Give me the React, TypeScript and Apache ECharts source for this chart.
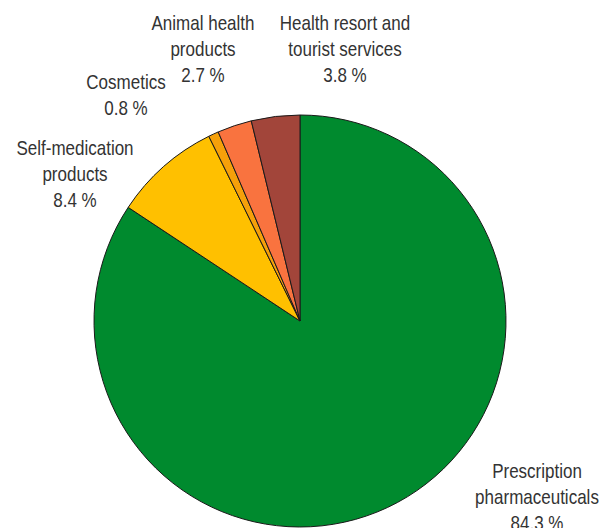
import React, { useEffect, useRef } from "react";
import * as echarts from "echarts";

const categories = [
  "Prescription\npharmaceuticals",
  "Self-medication\nproducts",
  "Cosmetics",
  "Animal health\nproducts",
  "Health resort and\ntourist services",
];
const values = [84.3, 8.4, 0.8, 2.7, 3.8];
const colors = ["#008A2E", "#FFC000", "#F5A00A", "#F9733F", "#A2453A"];
const labelPos: [number, number][] = [
  [537, 497],
  [75, 174],
  [126, 95],
  [203, 49],
  [345, 49],
];

export default function App() {
  const ref = useRef<HTMLDivElement>(null);
  useEffect(() => {
    if (!ref.current) return;
    const chart = echarts.init(ref.current, undefined, { renderer: "svg" });
    chart.setOption({
      animation: false,
      backgroundColor: "#ffffff",
      graphic: categories.map((name, i) => ({
        type: "text",
        x: labelPos[i][0],
        y: labelPos[i][1],
        scaleX: 0.81,
        silent: true,
        style: {
          text: `${name}\n${values[i].toFixed(1)} %`,
          x: 0,
          y: 0,
          align: "center",
          verticalAlign: "middle",
          fontFamily: "'Liberation Sans', Arial, sans-serif",
          fontSize: 21,
          lineHeight: 26,
          fill: "#333333",
        },
      })),
      series: [
        {
          type: "pie",
          center: [300, 321],
          radius: 206,
          startAngle: 90,
          clockwise: true,
          itemStyle: { borderColor: "#1a1a1a", borderWidth: 1 },
          label: { show: false },
          labelLine: { show: false },
          data: categories.map((name, i) => ({
            name,
            value: values[i],
            itemStyle: { color: colors[i] },
          })),
        },
      ],
    });
    return () => chart.dispose();
  }, []);
  return <div ref={ref} style={{ width: 605, height: 528, position: "absolute", left: 0, top: 0 }} />;
}
